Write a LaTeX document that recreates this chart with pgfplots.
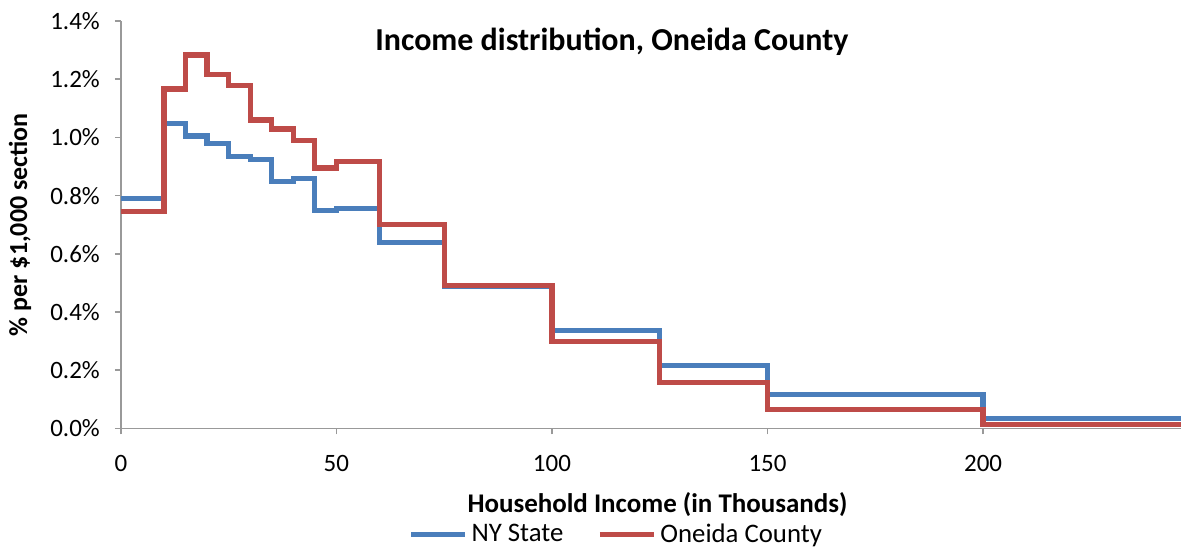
\documentclass[border=0pt]{standalone}
\usepackage{pgfplots}
\pgfplotsset{compat=1.18}
\usepackage{fontspec}
\setmainfont{Carlito}
\definecolor{nyblue}{HTML}{4A7EBB}
\definecolor{onred}{HTML}{BE4B48}
\begin{document}
\begin{tikzpicture}
\begin{axis}[
  name=main,
  anchor=south west, at={(0,0)},
  scale only axis,
  width=531pt, height=204pt,
  xmin=0, xmax=246,
  ymin=0, ymax=1.4,
  axis x line*=bottom, axis y line*=left,
  axis line style={draw=gray!80, line width=0.8pt},
  tick style={draw=gray!80, line width=0.8pt},
  xtick={0,50,100,150,200},
  ytick={0,0.2,...,1.4},
  tick align=outside,
  major tick length=3pt,
  /pgf/number format/assume math mode=true,
  yticklabel={\pgfmathprintnumber[fixed,fixed zerofill,precision=1]{\tick}\%},
  ticklabel style={font=\fontsize{12.5}{14}\selectfont},
  yticklabel style={xshift=-4pt},
  xticklabel style={yshift=-7pt},
  xlabel={\textbf{Household Income (in Thousands)}},
  ylabel={\textbf{\% per \$1,000 section}},
  xlabel style={font=\fontsize{13.5}{15}\selectfont, at={(axis description cs:0.506,-0.186)}, anchor=center},
  ylabel style={font=\fontsize{13}{15}\selectfont, at={(axis description cs:-0.0951,0.5)}, anchor=center},
  legend style={at={(axis description cs:0.468,-0.26)}, anchor=center, draw=none, legend columns=2,
    font=\fontsize{13.4}{15}\selectfont, inner sep=0pt,
    nodes={inner xsep=2pt},
    /tikz/every even column/.append style={column sep=15pt}},
  legend image code/.code={\draw[#1] (0pt,0pt) -- (27pt,0pt);},
  clip=false,
]
\addplot[const plot mark left, color=nyblue, line width=2.6pt] coordinates {
  (0,0.789) (10,1.047) (15,1.005) (20,0.978) (25,0.933) (30,0.923) (35,0.848)
  (40,0.858) (45,0.748) (50,0.755) (60,0.638) (75,0.487) (100,0.337)
  (125,0.217) (150,0.117) (200,0.034) (246,0.034)
};
\addlegendentry{NY State}
\addplot[const plot mark left, color=onred, line width=2.6pt] coordinates {
  (0,0.746) (10,1.166) (15,1.283) (20,1.215) (25,1.177) (30,1.060) (35,1.029)
  (40,0.989) (45,0.895) (50,0.918) (60,0.700) (75,0.490) (100,0.300)
  (125,0.159) (150,0.065) (200,0.014) (246,0.014)
};
\addlegendentry{Oneida County}
\node[font=\bfseries\fontsize{16}{18}\selectfont] at (rel axis cs:0.463,0.949) {Income distribution, Oneida County};
\end{axis}
\path[use as bounding box] (-60.5pt,-59.5pt) rectangle (531.5pt,214.5pt);
\end{tikzpicture}
\end{document}
